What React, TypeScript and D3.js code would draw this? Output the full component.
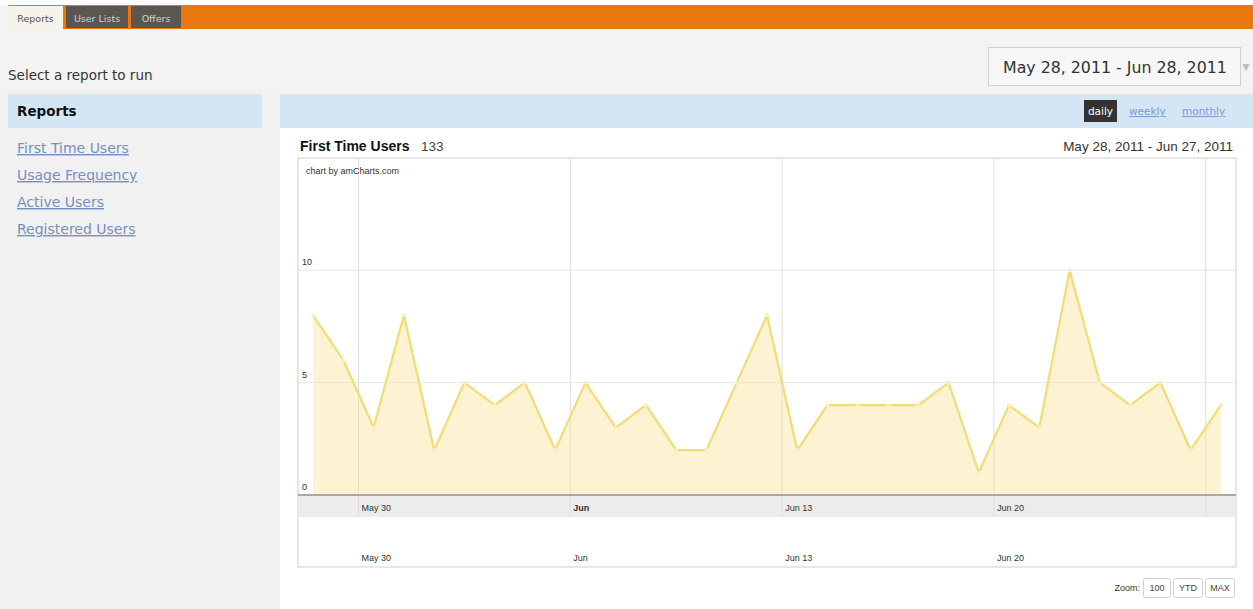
import React, { useEffect, useRef } from "react";
import * as d3 from "d3";

// daily first-time users, May 28 - Jun 27 2011
const days = [
  "2011-05-28", "2011-05-29", "2011-05-30", "2011-05-31", "2011-06-01", "2011-06-02",
  "2011-06-03", "2011-06-04", "2011-06-05", "2011-06-06", "2011-06-07", "2011-06-08",
  "2011-06-09", "2011-06-10", "2011-06-11", "2011-06-12", "2011-06-13", "2011-06-14",
  "2011-06-15", "2011-06-16", "2011-06-17", "2011-06-18", "2011-06-19", "2011-06-20",
  "2011-06-21", "2011-06-22", "2011-06-23", "2011-06-24", "2011-06-25", "2011-06-26",
  "2011-06-27",
];
const users = [8, 6, 3, 8, 2, 5, 4, 5, 2, 5, 3, 4, 2, 2, 5, 8, 2, 4, 4, 4, 4, 5, 1, 4, 3, 10, 5, 4, 5, 2, 4];

const gridDays = ["2011-05-30", "2011-06-06", "2011-06-13", "2011-06-20", "2011-06-27"];
const gridLabels = ["May 30", "Jun", "Jun 13", "Jun 20", ""];
const yTicks = [0, 5, 10];

const reportLinks = ["First Time Users", "Usage Frequency", "Active Users", "Registered Users"];
const tabs = ["Reports", "User Lists", "Offers"];
const zoomButtons = ["100", "YTD", "MAX"];

const parse = d3.timeParse("%Y-%m-%d");
const chartFont = "'Liberation Sans', Arial, sans-serif";
const pageFont = "'DejaVu Sans', Verdana, sans-serif";

export default function App() {
  const ref = useRef<SVGGElement>(null);

  useEffect(() => {
    const g = d3.select(ref.current);
    g.selectAll("*").remove();

    const left = 298, right = 1236, top = 158, bottom = 495;
    const data = days.map((d, i) => ({ date: parse(d), v: users[i] }));

    const x = d3
      .scaleTime()
      .domain([parse("2011-05-28"), parse("2011-06-28")])
      .range([left, right]);
    const y = d3.scaleLinear().domain([0, 15]).range([bottom, top]);
    const mid = (d) => x(d3.timeHour.offset(d, 12));

    // frame
    g.append("rect")
      .attr("x", left).attr("y", top)
      .attr("width", right - left).attr("height", 567 - top)
      .attr("fill", "#fff").attr("stroke", "#cfcfcf");

    // date band under plot
    g.append("rect")
      .attr("x", left + 0.5).attr("y", bottom)
      .attr("width", right - left - 1).attr("height", 22)
      .attr("fill", "#ececec");

    // horizontal grid
    g.selectAll(".hgrid")
      .data(yTicks.filter((t) => t > 0))
      .enter()
      .append("line")
      .attr("x1", left).attr("x2", right)
      .attr("y1", (d) => y(d)).attr("y2", (d) => y(d))
      .attr("stroke", "#e8e8e8");

    // vertical grid (weekly)
    g.selectAll(".vgrid")
      .data(gridDays)
      .enter()
      .append("line")
      .attr("x1", (d) => x(parse(d))).attr("x2", (d) => x(parse(d)))
      .attr("y1", top).attr("y2", bottom + 22)
      .attr("stroke", "#dedede");

    // area + line
    const area = d3.area()
      .x((d) => mid(d.date))
      .y0(y(0))
      .y1((d) => y(d.v));
    g.append("path").datum(data).attr("d", area)
      .attr("fill", "#fbe39a").attr("fill-opacity", 0.45);

    const line = d3.line()
      .x((d) => mid(d.date))
      .y((d) => y(d.v));
    g.append("path").datum(data).attr("d", line)
      .attr("fill", "none").attr("stroke", "#f3dc72").attr("stroke-width", 2.2);

    g.selectAll(".bullet")
      .data(data)
      .enter()
      .append("circle")
      .attr("cx", (d) => mid(d.date)).attr("cy", (d) => y(d.v))
      .attr("r", 2).attr("fill", "#fbefc0");

    // axis line
    g.append("line")
      .attr("x1", left).attr("x2", right)
      .attr("y1", bottom).attr("y2", bottom)
      .attr("stroke", "#a8a8a8").attr("stroke-width", 2);

    // y labels
    g.selectAll(".ylab")
      .data(yTicks)
      .enter()
      .append("text")
      .attr("x", 302).attr("y", (d) => y(d) - 5)
      .attr("font-family", chartFont).attr("font-size", 9).attr("fill", "#333")
      .text((d) => d);

    // x labels, in band and below
    [511, 561].forEach((yy, row) => {
      g.selectAll(".xlab" + row)
        .data(gridDays)
        .enter()
        .append("text")
        .attr("x", (d) => x(parse(d)) + 3).attr("y", yy)
        .attr("font-family", chartFont).attr("font-size", 9).attr("fill", "#333")
        .attr("font-weight", (d, i) => (row === 0 && gridLabels[i] === "Jun" ? "bold" : "normal"))
        .text((d, i) => gridLabels[i]);
    });

    g.append("text")
      .attr("x", 306).attr("y", 174)
      .attr("font-family", chartFont).attr("font-size", 9).attr("fill", "#333")
      .text("chart by amCharts.com");
  }, []);

  return (
    <svg
      width={1253}
      height={609}
      style={{ position: "absolute", left: 0, top: 0, background: "#f3f3f3" }}
    >
      {/* top bar */}
      <rect x={0} y={0} width={1253} height={5} fill="#fff" />
      <rect x={8} y={5} width={1245} height={24} fill="#e8780f" />
      {tabs.map((t, i) => {
        const xs = [8, 66, 131];
        const ws = [55, 62, 50];
        return (
          <g key={t}>
            <rect x={xs[i]} y={6} width={ws[i]} height={i === 0 ? 24 : 22}
              fill={i === 0 ? "#f5f2ea" : "#5b5750"} />
            <text x={xs[i] + ws[i] / 2} y={22} textAnchor="middle" fontFamily={pageFont}
              fontSize={9.5} fill={i === 0 ? "#555" : "#cfcfcf"}>{t}</text>
          </g>
        );
      })}

      <text x={8} y={80} fontFamily={pageFont} fontSize={13.5} fill="#333">Select a report to run</text>

      {/* sidebar */}
      <rect x={0} y={90} width={278} height={519} fill="#f1f1f1" />
      <rect x={8} y={94} width={254} height={34} fill="#d4e6f4" />
      <text x={17} y={116} fontFamily={pageFont} fontSize={13.5} fontWeight="bold" fill="#111">Reports</text>
      {reportLinks.map((t, i) => (
        <text key={t} x={17} y={153 + i * 27} fontFamily={pageFont} fontSize={14}
          fill="#7490c0" textDecoration="underline">{t}</text>
      ))}

      {/* date picker */}
      <rect x={988.5} y={47.5} width={252} height={38} fill="#f7f7f7" stroke="#cfcfcf" />
      <text x={1003} y={73} fontFamily={pageFont} fontSize={15.8} fill="#333">May 28, 2011 - Jun 28, 2011</text>
      <text x={1246} y={70} fontFamily={pageFont} fontSize={9} fill="#bbb" textAnchor="middle">▼</text>

      {/* period band */}
      <rect x={280} y={94} width={973} height={34} fill="#d4e6f4" />
      <rect x={1084} y={100} width={33} height={22} fill="#333" />
      <text x={1100.5} y={115} textAnchor="middle" fontFamily={pageFont} fontSize={10.5} fill="#fff">daily</text>
      <text x={1129} y={115} fontFamily={pageFont} fontSize={10.5} fill="#7d9bd0" textDecoration="underline">weekly</text>
      <text x={1182} y={115} fontFamily={pageFont} fontSize={10.5} fill="#7d9bd0" textDecoration="underline">monthly</text>

      {/* chart panel */}
      <rect x={280} y={128} width={973} height={481} fill="#fff" />
      <text x={300} y={151} fontFamily={chartFont} fontSize={14} fontWeight="bold" fill="#111">First Time Users</text>
      <text x={421} y={151} fontFamily={chartFont} fontSize={13.5} fill="#444">133</text>
      <text x={1233} y={151} textAnchor="end" fontFamily={chartFont} fontSize={13.5} fill="#333">May 28, 2011 - Jun 27, 2011</text>

      <g ref={ref} />

      {/* zoom buttons */}
      <text x={1140} y={591} textAnchor="end" fontFamily={chartFont} fontSize={9} fill="#333">Zoom:</text>
      {zoomButtons.map((b, i) => {
        const xs = [1143, 1173, 1205];
        const ws = [27, 29, 29];
        return (
          <g key={b}>
            <rect x={xs[i] + 0.5} y={578.5} width={ws[i]} height={19} rx={2} fill="#fff" stroke="#cfcfcf" />
            <text x={xs[i] + ws[i] / 2 + 0.5} y={591} textAnchor="middle" fontFamily={chartFont}
              fontSize={9} fill="#444">{b}</text>
          </g>
        );
      })}
    </svg>
  );
}
